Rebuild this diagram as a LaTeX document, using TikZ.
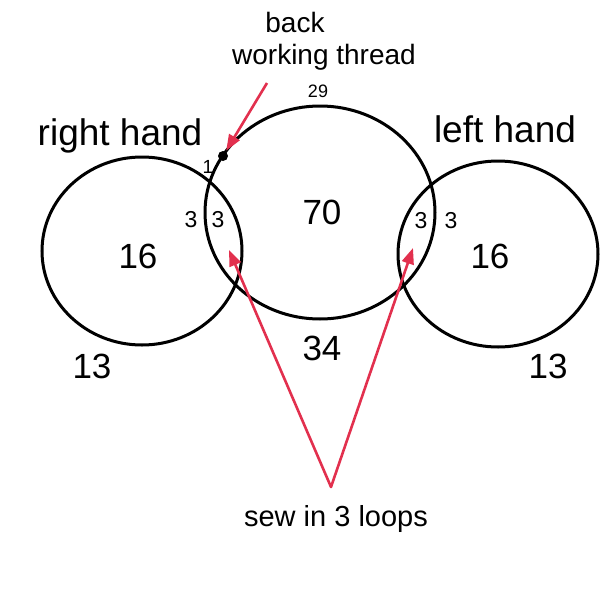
\documentclass[tikz,border=0pt]{standalone}
\usepackage{fontspec}
\setmainfont{Liberation Sans}
\usetikzlibrary{arrows.meta}
\definecolor{arrowred}{RGB}{226,48,78}
\tikzset{
  ring/.style={line width=3pt, black},
  lbl/.style={anchor=base, inner sep=0pt, font=\fontsize{#1}{#1}\selectfont},
  redarrow/.style={arrowred, line width=2.6pt, -{Triangle[length=16pt,width=12pt]}},
}
\begin{document}
\begin{tikzpicture}[x=1pt,y=-1pt]
\useasboundingbox (0,0) rectangle (600,600);
% circles
\draw[ring] (142,251) ellipse [x radius=100, y radius=94];
\draw[ring] (320,212.5) ellipse [x radius=115, y radius=106.5];
\draw[ring] (498,254) ellipse [x radius=100, y radius=93];
% dot
\node[circle, fill=black, inner sep=0pt, minimum size=10pt] (dot) at (223,156) {};
% labels
\node[lbl=28] (back) at (295,32) {back};
\node[lbl=28] (wt) at (324,64) {working thread};
\node[lbl=18] (n29) at (318,97) {29};
\node[lbl=37] (rh) at (120,145) {right hand};
\node[lbl=37] (lh) at (505,142) {left hand};
\node[lbl=19] (n1) at (208,173) {1};
\node[lbl=23] (l3a) at (191,227) {3};
\node[lbl=23] (l3b) at (218,227) {3};
\node[lbl=23] (r3a) at (421,228) {3};
\node[lbl=23] (r3b) at (451,228) {3};
\node[lbl=35] (n70) at (322,224) {70};
\node[lbl=35] (l16) at (138,268) {16};
\node[lbl=35] (r16) at (490,268) {16};
\node[lbl=35] (l13) at (92,378) {13};
\node[lbl=35] (r13) at (548,378) {13};
\node[lbl=35] (n34) at (322,360) {34};
\node[lbl=29] (sew) at (336,526) {sew in 3 loops};
% arrows
\coordinate (topstart) at (267,83);
\coordinate (apex) at (331,487);
\coordinate (ltip) at (229,250);
\coordinate (rtip) at (413,248);
\draw[redarrow, shorten >=1pt] (topstart) -- (dot);
\draw[redarrow, line cap=round, line join=round] (apex) -- (ltip);
\draw[redarrow, line cap=round] (apex) -- (rtip);
\end{tikzpicture}
\end{document}
